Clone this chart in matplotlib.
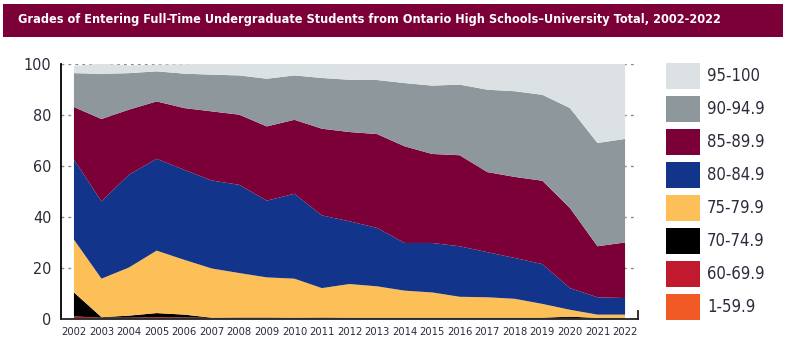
import matplotlib
matplotlib.use("Agg")
import matplotlib.pyplot as plt
from matplotlib.patches import Rectangle
import numpy as np

years = list(range(2002, 2023))
categories = ["1-59.9", "60-69.9", "70-74.9", "75-79.9", "80-84.9", "85-89.9", "90-94.9", "95-100"]
colors = ["#F15A24", "#C1192D", "#000000", "#FDBF57", "#13348B", "#7A0037", "#8E979C", "#DCE1E4"]

g_1_59 = [0.2, 0.1, 0.1, 0.1, 0.1, 0.1, 0.1, 0.1, 0.1, 0.1, 0.1, 0.1, 0.1, 0.1, 0.1, 0.1, 0.1, 0.1, 0.1, 0.1, 0.1]
g_60_69 = [0.7, 0.3, 0.3, 0.5, 0.4, 0.2, 0.3, 0.3, 0.2, 0.3, 0.2, 0.2, 0.2, 0.2, 0.2, 0.2, 0.2, 0.2, 0.2, 0.1, 0.1]
g_70_74 = [9.4, 0.2, 0.8, 1.6, 1.1, 0.1, 0.1, 0.1, 0.1, 0.1, 0.1, 0.1, 0.1, 0.1, 0.1, 0.1, 0.1, 0.1, 0.5, 0.1, 0.1]
g_75_79 = [20.7, 15.1, 18.9, 24.5, 21.5, 19.3, 17.4, 15.7, 15.3, 11.5, 13.2, 12.3, 10.6, 9.9, 8.2, 8.0, 7.4, 5.4, 2.7, 1.3, 1.3]
g_80_84 = [31.4, 30.3, 36.4, 36.0, 35.3, 34.5, 34.6, 30.1, 33.3, 28.5, 24.6, 22.9, 18.7, 19.4, 19.8, 17.7, 16.0, 15.6, 8.5, 6.8, 6.5]
g_85_89 = [20.6, 32.3, 25.5, 22.5, 24.2, 27.1, 27.5, 29.1, 29.0, 34.0, 35.0, 36.8, 37.9, 34.9, 35.7, 31.4, 31.8, 32.7, 31.4, 20.0, 21.8]
g_90_94 = [13.3, 17.7, 14.3, 11.8, 13.5, 14.4, 15.4, 18.7, 17.4, 19.9, 20.5, 21.2, 24.8, 26.8, 27.7, 32.3, 33.6, 33.7, 39.2, 40.5, 40.6]
g_95_100 = [2.8, 4.0, 3.0, 2.6, 3.7, 4.3, 4.6, 5.9, 4.6, 5.6, 6.3, 6.4, 7.6, 8.6, 8.2, 10.2, 10.8, 12.2, 17.4, 31.1, 29.5]
series = [g_1_59, g_60_69, g_70_74, g_75_79, g_80_84, g_85_89, g_90_94, g_95_100]
yticks = [0, 20, 40, 60, 80, 100]

title = "Grades of Entering Full-Time Undergraduate Students from Ontario High Schools\u2013University Total, 2002-2022"

FONT = ["DejaVu Sans"]
STRETCH = "condensed"
TXT = "#2b2b3b"
W, H = 787, 352
fig = plt.figure(figsize=(W / 100, H / 100), dpi=100)

# title banner
fig.patches.append(Rectangle((3 / W, 1 - 37 / H), 780 / W, 33 / H, transform=fig.transFigure,
                             facecolor="#7A0037", edgecolor="none"))
t = fig.text(18 / W, 1 - 20 / H, title, color="white", fontsize=12, family=FONT,
             fontstretch=STRETCH, ha="left", va="center", fontweight="bold")
renderer = fig.canvas.get_renderer()
w = t.get_window_extent(renderer).width
t.set_fontsize(12 * 695 / w)

ax = fig.add_axes([61 / W, 1 - 318.7 / H, 577 / W, 255 / H])
ax.stackplot(years, *series, colors=colors, linewidth=0, zorder=2)
ax.set_xlim(2001.53, 2022.47)
ax.set_ylim(0, 100)
for v in yticks[1:]:
    ax.axhline(v, color="#8a8a8a", lw=1.0, ls=(0, (2, 3)), zorder=1)

ax.set_yticks(yticks)
ax.set_yticklabels([str(v) for v in yticks], family=FONT, fontstretch=STRETCH, fontsize=11.5, color=TXT)
ax.set_xticks(years)
ax.set_xticklabels([str(y) for y in years], family=FONT, fontstretch=STRETCH, fontsize=8, color=TXT)
ax.tick_params(axis="both", length=0)
ax.tick_params(axis="y", pad=7)
ax.tick_params(axis="x", pad=6)
ax.spines["top"].set_visible(False)
ax.spines["left"].set_color("black")
ax.spines["left"].set_linewidth(1.3)
ax.spines["bottom"].set_color("#222222")
ax.spines["bottom"].set_linewidth(1.3)
ax.spines["right"].set_color("#222222")
ax.spines["right"].set_linewidth(1.3)
ax.spines["right"].set_bounds(0, 3)
ax.set_facecolor("white")

# legend (top to bottom: highest grade first)
y0 = 63
for i, (lab, col) in enumerate(zip(categories[::-1], colors[::-1])):
    top = y0 + i * 33
    fig.patches.append(Rectangle((666 / W, 1 - (top + 26) / H), 34 / W, 26 / H,
                                 transform=fig.transFigure, facecolor=col, edgecolor="none"))
    fig.text(707 / W, 1 - (top + 13) / H, lab, family=FONT, fontstretch=STRETCH, fontsize=12,
             color=TXT, ha="left", va="center")

fig.savefig("out.png", dpi=100)
